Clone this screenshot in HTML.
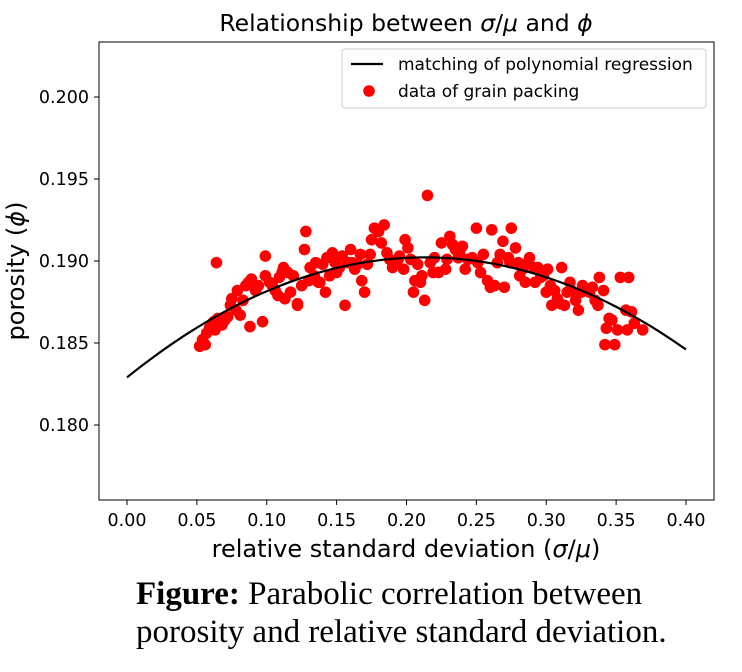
<!DOCTYPE html>
<html><head><meta charset="utf-8"><style>
body{margin:0;background:#fff;width:742px;height:672px;overflow:hidden}
svg{position:absolute;left:0;top:0}
.cap{position:absolute;left:136px;top:575px;font-family:"Liberation Serif",serif;font-size:33px;line-height:38px;color:#000;white-space:nowrap}
</style></head><body>
<svg id="chart" width="742" height="572" font-family="DejaVu Sans, sans-serif"></svg>
<div class="cap"><b>Figure:</b> Parabolic correlation between<br>porosity and relative standard deviation.</div>
<script>
const xTicks=[0,0.05,0.10,0.15,0.20,0.25,0.30,0.35,0.40];
const xTickLabels=["0.00","0.05","0.10","0.15","0.20","0.25","0.30","0.35","0.40"];
const yTicks=[0.180,0.185,0.190,0.195,0.200];
const yTickLabels=["0.180","0.185","0.190","0.195","0.200"];
const fitA=-0.161, fitH=0.2132, fitK=0.19022;
const ptX=[0.052,0.054,0.057,0.059,0.056,0.062,0.065,0.063,0.064,0.068,0.070,0.074,0.075,0.072,0.078,0.081,0.079,0.083,0.085,0.087,0.089,0.088,0.092,0.094,0.097,0.099,0.099,0.102,0.104,0.106,0.108,0.109,0.111,0.112,0.113,0.115,0.117,0.119,0.122,0.122,0.125,0.127,0.128,0.130,0.131,0.134,0.135,0.137,0.138,0.140,0.142,0.143,0.145,0.147,0.149,0.150,0.152,0.154,0.156,0.158,0.160,0.161,0.163,0.165,0.167,0.168,0.170,0.172,0.174,0.175,0.177,0.180,0.182,0.184,0.186,0.188,0.190,0.192,0.194,0.195,0.198,0.199,0.201,0.203,0.205,0.206,0.208,0.210,0.211,0.213,0.215,0.217,0.219,0.220,0.223,0.225,0.228,0.229,0.231,0.233,0.235,0.237,0.238,0.240,0.242,0.244,0.247,0.250,0.251,0.253,0.255,0.258,0.260,0.261,0.263,0.265,0.267,0.269,0.270,0.273,0.274,0.275,0.278,0.280,0.281,0.283,0.285,0.287,0.288,0.291,0.292,0.294,0.296,0.298,0.300,0.301,0.303,0.304,0.306,0.308,0.310,0.311,0.313,0.315,0.317,0.318,0.321,0.323,0.325,0.326,0.328,0.331,0.333,0.335,0.337,0.338,0.341,0.342,0.343,0.345,0.347,0.349,0.351,0.353,0.357,0.358,0.359,0.361,0.363,0.369];
const ptY=[0.1848,0.1852,0.1856,0.1859,0.1849,0.1863,0.1865,0.1858,0.1899,0.1861,0.1864,0.1873,0.1877,0.1866,0.1870,0.1867,0.1882,0.1876,0.1885,0.1887,0.1889,0.1860,0.1882,0.1885,0.1863,0.1891,0.1903,0.1887,0.1885,0.1882,0.1879,0.1890,0.1893,0.1896,0.1877,0.1893,0.1881,0.1891,0.1873,0.1874,0.1885,0.1907,0.1918,0.1888,0.1896,0.1891,0.1899,0.1887,0.1887,0.1898,0.1881,0.1902,0.1891,0.1905,0.1899,0.1893,0.1896,0.1903,0.1873,0.1899,0.1907,0.1899,0.1895,0.1898,0.1904,0.1888,0.1881,0.1898,0.1904,0.1913,0.1920,0.1918,0.1911,0.1922,0.1905,0.1901,0.1896,0.1899,0.1901,0.1903,0.1895,0.1913,0.1908,0.1901,0.1881,0.1888,0.1898,0.1887,0.1891,0.1876,0.1940,0.1899,0.1893,0.1902,0.1893,0.1911,0.1895,0.1901,0.1915,0.1910,0.1907,0.1902,0.1905,0.1909,0.1895,0.1901,0.1902,0.1920,0.1899,0.1893,0.1904,0.1888,0.1884,0.1919,0.1885,0.1899,0.1904,0.1912,0.1884,0.1902,0.1899,0.1920,0.1908,0.1899,0.1891,0.1895,0.1887,0.1899,0.1902,0.1896,0.1887,0.1896,0.1890,0.1891,0.1881,0.1895,0.1885,0.1873,0.1882,0.1877,0.1874,0.1896,0.1873,0.1881,0.1887,0.1882,0.1876,0.1870,0.1881,0.1885,0.1882,0.1881,0.1884,0.1876,0.1873,0.1890,0.1882,0.1849,0.1859,0.1865,0.1864,0.1849,0.1858,0.1890,0.1870,0.1858,0.1890,0.1869,0.1862,0.1858];

const L=99,R=714,T=42,B=500;
const xs=v=>127+(v-0)*(686-127)/0.4;
const ys=v=>425-(v-0.180)*(425-97)/0.020;
const svg=document.getElementById('chart');
const NS='http://www.w3.org/2000/svg';
function mk(tag,attrs,parent){const e=document.createElementNS(NS,tag);for(const k in attrs)e.setAttribute(k,attrs[k]);(parent||svg).appendChild(e);return e;}

const t=mk('text',{x:406,y:31,'text-anchor':'middle','font-size':23.5});


t.innerHTML='Relationship between <tspan font-style="italic">σ</tspan>/<tspan font-style="italic">μ</tspan> and <tspan font-style="italic">ϕ</tspan>';

const clip=mk('clipPath',{id:'c'});mk('rect',{x:L,y:T,width:R-L,height:B-T},clip);
const pts=mk('g',{'clip-path':'url(#c)'});


for(let i=0;i<ptX.length;i++){
  const c=mk('circle',{cx:xs(ptX[i]),cy:ys(ptY[i]),r:5.8,fill:'#ff0000'},pts);
  
  
}
let d='';
for(let i=0;i<=100;i++){const v=0.4*i/100;const yv=fitA*(v-fitH)**2+fitK;d+=(i?'L':'M')+xs(v).toFixed(2)+','+ys(yv).toFixed(2);}
const fit=mk('path',{d:d,fill:'none',stroke:'#000','stroke-width':2.2});



const fr=mk('rect',{x:L,y:T,width:R-L,height:B-T,fill:'none',stroke:'#000','stroke-width':1});



xTicks.forEach((v,i)=>{
  mk('line',{x1:xs(v),x2:xs(v),y1:B,y2:B+5,stroke:'#000'});
  const tx=mk('text',{x:xs(v),y:B+26,'text-anchor':'middle','font-size':17.5});
  
  
  tx.textContent=xTickLabels[i];
});
yTicks.forEach((v,i)=>{
  mk('line',{x1:L-5,x2:L,y1:ys(v),y2:ys(v),stroke:'#000'});
  const tx=mk('text',{x:L-10,y:ys(v)+6,'text-anchor':'end','font-size':17.5});
  
  
  tx.textContent=yTickLabels[i];
});
const xl=mk('text',{x:406,y:557,'text-anchor':'middle','font-size':24});


xl.innerHTML='relative standard deviation (<tspan font-style="italic">σ</tspan>/<tspan font-style="italic">μ</tspan>)';
const yl=mk('text',{x:0,y:0,'text-anchor':'middle','font-size':24,transform:'translate(24,271) rotate(-90)'});


yl.innerHTML='porosity (<tspan font-style="italic">ϕ</tspan>)';

const lg=mk('g',{});


mk('rect',{x:342,y:49,width:364,height:59,rx:3,fill:'#fff',stroke:'#ccc'},lg);
mk('line',{x1:351,x2:383,y1:64,y2:64,stroke:'#000','stroke-width':2.2},lg);
const l1=mk('text',{x:398,y:70,'font-size':17},lg);


l1.textContent='matching of polynomial regression';
mk('circle',{cx:369,cy:91,r:5.8,fill:'#ff0000'},lg);
const l2=mk('text',{x:398,y:97,'font-size':17},lg);


l2.textContent='data of grain packing';
</script>
</body></html>
